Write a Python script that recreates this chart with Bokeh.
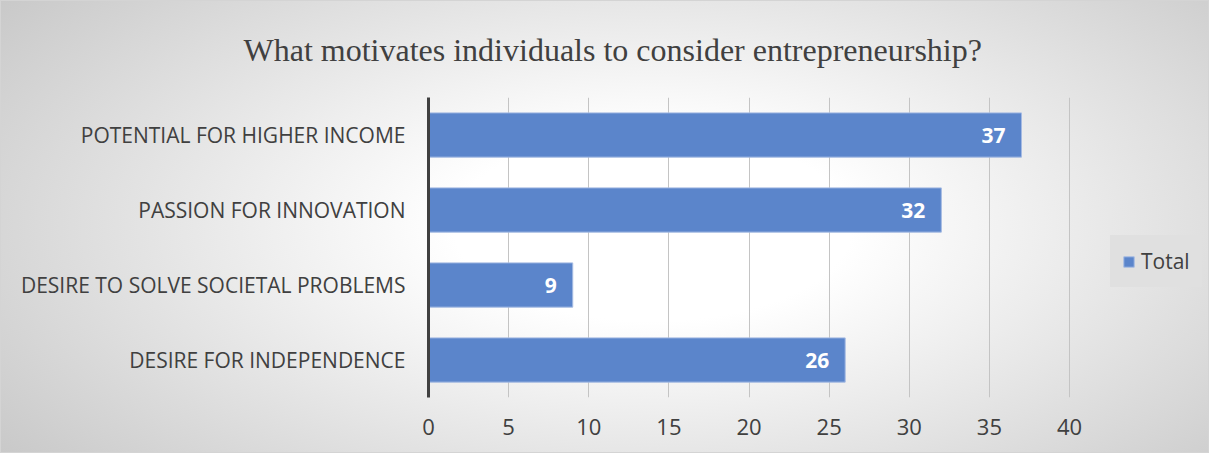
from bokeh.plotting import figure
from bokeh.models import ColumnDataSource, Legend, LegendItem, FixedTicker
from bokeh.core.properties import value
from bokeh.embed import file_html
from bokeh.resources import INLINE

categories = ["POTENTIAL FOR HIGHER INCOME", "PASSION FOR INNOVATION",
              "DESIRE TO SOLVE SOCIETAL PROBLEMS", "DESIRE FOR INDEPENDENCE"]
totals = [37, 32, 9, 26]
x_ticks = [0, 5, 10, 15, 20, 25, 30, 35, 40]
title_text = "What motivates individuals  to consider entrepreneurship?"

src = ColumnDataSource(dict(cat=categories, val=totals, lbl=[str(v) for v in totals]))

p = figure(width=1209, height=453, y_range=list(reversed(categories)), x_range=(0, 48.67),
           output_backend="svg", toolbar_location=None,
           min_border_left=428, min_border_right=1, min_border_top=97, min_border_bottom=56)
p.background_fill_color = None
p.border_fill_color = None
p.outline_line_color = None
p.styles = {"background-image": "radial-gradient(ellipse 75% 95% at 54% 50%, #ffffff 0%, #ffffff 22%, #c0c0c0 100%)",
            "box-shadow": "inset 0 0 0 1px #d4d4d4"}

p.title.text = title_text
p.title.align = "left"
p.title.vertical_align = "top"
p.title.offset = -185
p.title.standoff = 56
p.title.text_font = "Liberation Serif"
p.title.text_font_size = "32px"
p.title.text_font_style = "normal"
p.title.text_color = "#404040"

r = p.hbar(y="cat", right="val", height=0.59, source=src,
           fill_color="#5B85CB", line_color="#A5BBE3", line_width=1)

p.text(x="val", y="cat", text="lbl", source=src, x_offset=-16,
       text_align="right", text_baseline="middle", text_color="white",
       text_font=value("Open Sans"), text_font_style="bold", text_font_size="21px")

# axes
p.xaxis.ticker = FixedTicker(ticks=x_ticks)
p.xaxis.axis_line_color = None
p.xaxis.major_tick_line_color = None
p.xaxis.minor_tick_line_color = None
p.xaxis.major_label_text_font = "Open Sans"
p.xaxis.major_label_text_font_size = "22px"
p.xaxis.major_label_text_color = "#404040"
p.xaxis.major_label_standoff = 15

p.yaxis.axis_line_color = "#404040"
p.yaxis.axis_line_width = 3
p.yaxis.major_tick_line_color = None
p.yaxis.minor_tick_line_color = None
p.yaxis.major_label_text_font = "Open Sans"
p.yaxis.major_label_text_font_size = "21px"
p.yaxis.major_label_text_color = "#404040"
p.yaxis.major_label_standoff = 17

p.xgrid.grid_line_color = "#c4c4c4"
p.xgrid.grid_line_width = 1
p.ygrid.grid_line_color = None

legend = Legend(items=[LegendItem(label="Total", renderers=[r])],
                location=(682, 110),
                background_fill_color="#e0e0e0", background_fill_alpha=1,
                border_line_color="#e0e0e0", border_line_width=12,
                label_text_font="Open Sans", label_text_font_size="21px",
                label_text_color="#404040",
                glyph_width=13, glyph_height=13, padding=0, margin=0, spacing=0,
                label_standoff=6)
p.add_layout(legend, "center")

open("out.html", "w").write(file_html(p, INLINE))
